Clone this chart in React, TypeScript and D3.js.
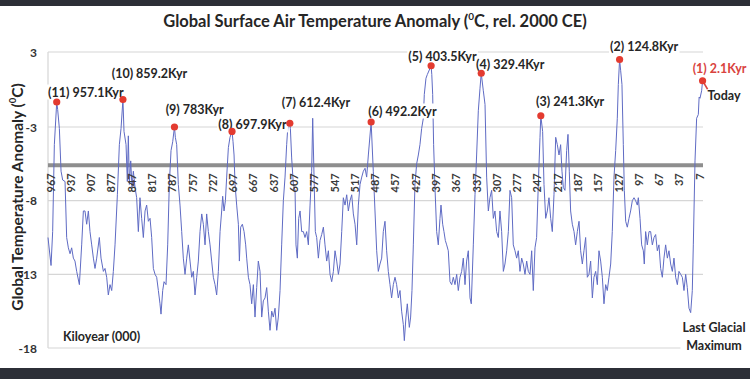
import React, { useEffect, useRef } from 'react';
import * as d3 from 'd3';

// Kiloyears before present (descending) and temperature anomaly (°C)
const kyrValues = [
  970.0, 965.5, 963.1, 960.6, 957.1, 955.7, 953.2, 950.7, 948.3, 944.8, 942.4, 939.9, 937.4, 935.0, 932.5, 930.1, 927.6, 923.6, 920.2, 917.7,
  915.3, 912.8, 910.3, 907.9, 905.4, 902.9, 900.5, 898.0, 894.1, 891.6, 888.1, 885.7, 883.2, 880.8, 878.3, 875.8, 873.4, 870.9, 867.4, 864.5,
  862.0, 859.2, 857.6, 854.6, 852.7, 851.2, 849.7, 847.7, 845.8, 843.8, 841.3, 838.9, 836.4, 834.0, 831.5, 829.0, 826.5, 824.1, 821.6, 819.1,
  816.7, 814.2, 811.7, 809.3, 806.8, 804.4, 802.9, 800.4, 798.4, 795.5, 793.0, 790.6, 788.1, 785.6, 783.0, 781.7, 779.7, 777.3, 774.8, 772.3,
  769.9, 767.4, 764.9, 762.5, 760.0, 757.5, 755.1, 752.6, 750.1, 747.7, 745.2, 742.7, 740.3, 737.8, 735.4, 732.9, 730.4, 728.0, 725.5, 723.0,
  720.6, 718.1, 715.6, 713.2, 711.7, 709.7, 707.7, 705.8, 703.3, 700.9, 697.9, 696.4, 694.9, 693.4, 691.0, 688.5, 687.0, 685.1, 682.6, 680.1,
  677.7, 676.2, 673.7, 671.3, 668.8, 666.3, 663.9, 661.4, 659.0, 656.5, 654.0, 651.6, 649.1, 646.6, 644.2, 641.7, 639.2, 636.8, 634.3, 631.8,
  629.4, 626.9, 624.5, 622.0, 619.5, 617.1, 615.1, 612.4, 611.6, 609.7, 607.2, 604.7, 603.3, 601.3, 599.3, 597.3, 594.9, 592.4, 590.0, 587.5,
  585.0, 582.5, 580.1, 578.6, 576.6, 574.7, 572.7, 570.2, 567.8, 565.3, 562.8, 560.4, 557.9, 555.4, 553.0, 550.5, 548.0, 545.6, 543.1, 540.6,
  538.2, 535.7, 533.3, 530.8, 528.3, 525.9, 523.4, 520.9, 518.5, 516.0, 513.5, 511.1, 508.6, 506.1, 503.7, 501.2, 498.8, 496.3, 492.2, 489.0,
  486.5, 484.0, 481.6, 479.1, 476.6, 474.2, 471.7, 469.3, 466.8, 464.3, 461.9, 459.4, 456.9, 454.5, 452.0, 449.5, 447.1, 444.6, 443.1, 440.7,
  438.7, 435.7, 433.8, 431.8, 429.8, 427.4, 424.9, 422.4, 420.0, 417.5, 415.0, 413.6, 411.1, 409.1, 403.5, 402.5, 401.2, 399.8, 397.8, 395.3,
  392.9, 390.4, 388.9, 386.4, 384.5, 382.5, 380.5, 378.1, 375.6, 373.1, 370.7, 368.2, 365.7, 363.3, 360.8, 358.3, 355.9, 353.4, 351.0, 348.5,
  346.0, 344.1, 341.1, 338.6, 336.2, 333.7, 331.2, 329.4, 326.3, 323.8, 321.4, 318.9, 316.5, 314.0, 311.5, 309.1, 306.6, 304.1, 301.7, 299.2,
  296.7, 294.3, 291.8, 289.3, 286.9, 284.4, 282.0, 279.5, 277.0, 274.6, 272.1, 269.6, 267.2, 264.7, 262.2, 259.8, 257.3, 254.8, 252.4, 249.9,
  247.5, 245.0, 242.5, 241.3, 238.6, 236.6, 234.1, 231.7, 229.2, 226.7, 224.3, 221.8, 219.3, 216.9, 214.4, 212.0, 210.0, 208.0, 205.6, 203.1,
  201.1, 199.2, 197.2, 194.7, 192.2, 189.8, 187.3, 184.8, 182.4, 179.9, 177.5, 175.0, 172.5, 170.1, 167.6, 165.1, 162.7, 160.2, 157.7, 155.3,
  152.8, 150.3, 147.9, 145.4, 143.0, 140.5, 138.0, 135.6, 133.1, 130.6, 128.2, 126.7, 124.8, 123.2, 121.3, 119.3, 117.8, 115.8, 113.4, 110.9,
  108.5, 106.0, 103.5, 101.1, 98.6, 97.1, 94.6, 92.2, 89.7, 88.3, 86.3, 83.8, 81.3, 78.9, 76.4, 73.9, 71.5, 69.0, 66.6, 64.1,
  61.6, 59.2, 56.7, 54.2, 51.8, 49.3, 46.8, 44.4, 41.9, 39.4, 37.0, 34.5, 32.0, 29.6, 27.1, 24.7, 22.2, 19.7, 17.3, 15.8,
  13.3, 10.9, 8.4, 7.2, 5.9, 3.5, 2.1,
];
const tempValues = [
  -10.5, -12.4, -10.1, -4.2, -1.0, -1.6, -3.1, -6.0, -6.6, -6.7, -10.5, -11.2, -11.6, -11.2, -11.9, -12.1, -12.8, -13.7, -11.0, -8.7,
  -8.7, -9.6, -8.7, -10.1, -11.0, -11.9, -12.6, -11.9, -10.5, -11.9, -12.8, -12.6, -13.2, -14.4, -13.7, -14.1, -12.8, -11.0, -7.6, -4.2,
  -3.1, -0.8, -3.3, -4.2, -6.7, -3.6, -6.9, -5.3, -7.1, -6.0, -7.1, -7.8, -10.1, -7.8, -9.2, -10.5, -8.7, -8.3, -9.4, -9.2,
  -10.5, -12.6, -13.0, -13.2, -14.1, -15.0, -15.7, -14.1, -13.5, -13.7, -11.0, -6.9, -4.6, -4.0, -3.0, -3.7, -4.2, -6.9, -8.3, -10.1,
  -11.9, -13.0, -11.9, -11.0, -12.1, -13.2, -12.8, -14.4, -13.2, -12.1, -10.1, -8.9, -9.6, -11.0, -8.9, -10.1, -11.0, -12.1, -13.2, -13.7,
  -14.4, -12.8, -10.1, -8.7, -7.7, -8.7, -8.0, -6.4, -4.4, -3.7, -3.3, -4.0, -4.9, -6.9, -8.3, -9.6, -12.1, -9.8, -9.6, -10.1,
  -11.0, -11.9, -13.2, -13.7, -15.0, -13.7, -15.9, -13.9, -12.1, -12.8, -15.9, -14.8, -14.6, -13.9, -15.5, -16.8, -15.5, -15.9, -15.3, -16.8,
  -15.9, -14.1, -11.0, -8.0, -6.4, -4.2, -2.8, -2.7, -3.1, -5.1, -6.9, -7.3, -11.0, -11.9, -9.2, -8.7, -10.1, -10.1, -10.5, -10.1,
  -11.0, -8.3, -6.0, -2.3, -6.4, -10.1, -10.5, -11.9, -10.7, -10.3, -9.8, -11.0, -12.1, -11.4, -13.0, -13.5, -12.8, -11.4, -12.1, -13.0,
  -12.3, -10.1, -7.8, -8.3, -7.6, -8.7, -8.0, -7.6, -8.9, -9.6, -11.0, -8.3, -6.9, -6.4, -6.0, -5.8, -6.4, -4.9, -2.6, -6.0,
  -8.7, -11.4, -12.8, -12.3, -11.9, -10.1, -9.4, -11.4, -12.8, -13.7, -14.6, -13.7, -13.2, -13.7, -14.6, -14.1, -15.5, -16.4, -17.5, -15.9,
  -15.0, -16.6, -15.9, -14.1, -11.0, -6.9, -5.5, -4.9, -4.2, -3.1, -2.3, -0.4, 0.9, 1.2, 1.9, 1.2, -0.4, -4.2, -7.1, -10.1,
  -11.0, -9.2, -8.3, -9.6, -10.1, -10.7, -11.0, -11.4, -13.5, -13.7, -13.2, -13.7, -13.0, -14.1, -13.2, -12.8, -11.9, -13.7, -12.1, -11.4,
  -14.6, -15.0, -11.0, -7.6, -4.9, -1.7, 0.1, 1.3, -0.1, -1.2, -6.4, -8.7, -7.8, -7.3, -9.2, -8.7, -10.1, -10.5, -8.7, -10.1,
  -12.8, -12.3, -11.4, -10.1, -7.3, -7.8, -11.0, -11.4, -11.9, -11.4, -12.8, -11.9, -12.3, -13.0, -12.1, -12.8, -13.0, -11.4, -14.1, -11.2,
  -10.5, -6.9, -3.7, -2.1, -3.3, -6.9, -9.2, -8.7, -7.8, -9.2, -10.1, -7.6, -3.7, -4.2, -4.9, -4.2, -6.0, -7.1, -7.3, -4.6,
  -3.5, -6.0, -8.7, -9.6, -10.1, -11.0, -10.1, -9.4, -11.4, -12.3, -11.4, -10.5, -13.2, -13.0, -12.1, -14.6, -13.2, -12.8, -13.7, -11.4,
  -12.1, -13.2, -15.0, -13.7, -14.1, -13.2, -12.3, -10.1, -6.4, -4.6, -2.3, 0.4, 2.4, 1.5, 0.4, -4.2, -7.3, -9.4, -9.8, -9.2,
  -8.7, -8.0, -7.8, -8.0, -8.3, -7.8, -9.2, -11.0, -11.4, -12.3, -10.1, -11.0, -10.1, -10.1, -11.0, -10.5, -10.3, -11.4, -11.0, -12.6,
  -13.2, -11.9, -11.0, -11.9, -11.4, -12.3, -12.8, -11.9, -13.2, -13.7, -12.8, -13.0, -13.2, -14.1, -13.0, -13.9, -15.3, -15.6, -14.1, -11.0,
  -5.3, -2.3, -2.0, -0.6, -0.7, -0.1, 0.7,
];

const peakLabels = [
  '(11) 957.1Kyr', '(10) 859.2Kyr', '(9) 783Kyr', '(8) 697.9Kyr', '(7) 612.4Kyr', '(6) 492.2Kyr',
  '(5) 403.5Kyr', '(4) 329.4Kyr', '(3) 241.3Kyr', '(2) 124.8Kyr', '(1) 2.1Kyr',
];
const peakKyr = [957.1, 859.2, 783.0, 697.9, 612.4, 492.2, 403.5, 329.4, 241.3, 124.8, 2.1];

const xTickLabels = [967, 937, 907, 877, 847, 817, 787, 757, 727, 697, 667, 637, 607, 577, 547, 517, 487, 457, 427, 397, 367, 337, 307, 277, 247, 217, 187, 157, 127, 97, 67, 37, 7];
const yTickValues = [3, -3, -8, -13, -18];
const axisCrossing = -5.6;

// label layout (offset of text start / text middle from its marker, px)
const labelOffsets: [number, number][] = [
  [-8.7, -10], [-11.2, -25.7], [-8.8, -17.3], [-13.7, -6.5], [-8, -21], [-2.8, -11],
  [-22.8, -9], [-5.2, -8.3], [-4.8, -14], [-9.6, -12.6], [-9.9, -12.4],
];

const FONT = 'Lato, "Open Sans", sans-serif';

export default function App() {
  const ref = useRef<SVGSVGElement>(null);

  useEffect(() => {
    const svg = d3.select(ref.current);
    svg.selectAll('*').remove();
    const W = 750, H = 379;

    const x = d3.scaleLinear().domain([970, 0]).range([48, 704]);
    const y = d3.scaleLinear().domain([-18, -3, 3]).range([348, 127, 52]);
    const x0 = 48, x1 = 703;

    svg.append('rect').attr('width', W).attr('height', H).attr('fill', '#fff');

    // gridlines
    svg.append('g').selectAll('line').data(yTickValues).join('line')
      .attr('x1', x0).attr('x2', x1)
      .attr('y1', d => y(d)).attr('y2', d => y(d))
      .attr('stroke', '#d6d6d6').attr('stroke-width', 1.2);
    svg.append('line').attr('x1', x0).attr('x2', x0).attr('y1', y(3)).attr('y2', y(-18))
      .attr('stroke', '#d6d6d6').attr('stroke-width', 1.2);

    // horizontal axis
    svg.append('line').attr('x1', x0).attr('x2', x1)
      .attr('y1', y(axisCrossing)).attr('y2', y(axisCrossing))
      .attr('stroke', '#8e8e8e').attr('stroke-width', 4);

    // series
    const n = Math.min(kyrValues.length, tempValues.length);
    const pts = kyrValues.slice(0, n).map((k, i) => [k, tempValues[i]] as [number, number]);
    const line = d3.line<[number, number]>().x(d => x(d[0])).y(d => y(d[1]));
    svg.append('path').attr('d', line(pts)!).attr('fill', 'none')
      .attr('stroke', '#5f6bc4').attr('stroke-width', 1.0).attr('stroke-linejoin', 'round');

    // x tick labels
    svg.append('g').selectAll('text').data(xTickLabels).join('text')
      .attr('transform', d => `translate(${x(d)},${y(axisCrossing) + 8}) rotate(-90)`)
      .attr('text-anchor', 'end').attr('dominant-baseline', 'central')
      .attr('font-family', FONT).attr('font-size', 11).attr('font-weight', 'bold')
      .attr('fill', '#3a3a3a').text(d => String(d));

    // y tick labels
    svg.append('g').selectAll('text').data(yTickValues).join('text')
      .attr('x', 37).attr('y', d => y(d)).attr('text-anchor', 'end').attr('dominant-baseline', 'central')
      .attr('font-family', FONT).attr('font-size', 12).attr('font-weight', 'bold')
      .attr('fill', '#333').text(d => String(d));

    const addBoxedText = (g: any, pad = 1) => {
      const node = g.node() as SVGTextElement;
      const bb = node.getBBox();
      d3.select(node.parentNode as SVGGElement).insert('rect', () => node)
        .attr('x', bb.x - pad).attr('y', bb.y).attr('width', bb.width + 2 * pad).attr('height', bb.height)
        .attr('fill', '#fff');
    };

    // peak labels & markers
    const labelsG = svg.append('g');
    peakKyr.forEach((k, i) => {
      const idx = kyrValues.indexOf(k);
      const t = tempValues[idx];
      const mx = x(k), my = y(t);
      const [dx, dy] = labelOffsets[i];
      const isToday = i === peakKyr.length - 1;
      const tx = labelsG.append('text').attr('x', mx + dx).attr('y', my + dy)
        .attr('dominant-baseline', 'central')
        .attr('font-family', FONT).attr('font-size', 12.5).attr('font-weight', 'bold')
        .attr('fill', isToday ? '#d9433f' : '#262626').text(peakLabels[i]);
      addBoxedText(tx);
    });
    const todayIdx = kyrValues.indexOf(peakKyr[peakKyr.length - 1]);
    const tmx = x(peakKyr[peakKyr.length - 1]), tmy = y(tempValues[todayIdx]);
    svg.append('line').attr('x1', tmx).attr('y1', tmy).attr('x2', tmx + 5).attr('y2', tmy + 8.5)
      .attr('stroke', '#d9433f').attr('stroke-width', 1.5);
    peakKyr.forEach(k => {
      const idx = kyrValues.indexOf(k);
      svg.append('circle').attr('cx', x(k)).attr('cy', y(tempValues[idx])).attr('r', 3.6)
        .attr('fill', '#e33b30');
    });

    svg.append('text').attr('x', tmx + 5).attr('y', tmy + 15).attr('dominant-baseline', 'central')
      .attr('font-family', FONT).attr('font-size', 12.5).attr('font-weight', 'bold').attr('fill', '#262626')
      .text('Today');

    // Last Glacial Maximum
    const lgmG = svg.append('g');
    const lgm = lgmG.append('text').attr('x', 714).attr('y', 327.7).attr('text-anchor', 'middle')
      .attr('font-family', FONT).attr('font-size', 12.5).attr('font-weight', 'bold').attr('fill', '#262626');
    lgm.append('tspan').attr('x', 714).attr('dy', '0.35em').text('Last Glacial');
    lgm.append('tspan').attr('x', 714).attr('dy', '1.45em').text('Maximum');
    addBoxedText(lgm, 2);

    svg.append('text').attr('x', 63).attr('y', 336.7).attr('dominant-baseline', 'central')
      .attr('font-family', FONT).attr('font-size', 12.5).attr('font-weight', 'bold').attr('fill', '#262626')
      .text('Kiloyear (000)');

    // title
    const title = svg.append('text').attr('x', 375).attr('y', 21).attr('text-anchor', 'middle')
      .attr('dominant-baseline', 'central')
      .attr('font-family', FONT).attr('font-size', 16.5).attr('font-weight', 'bold').attr('fill', '#262626');
    title.append('tspan').text('Global Surface Air Temperature Anomaly (');
    title.append('tspan').attr('font-size', 10).attr('dy', -5).text('0');
    title.append('tspan').attr('dy', 5).text('C, rel. 2000 CE)');

    // y axis title
    const yt = svg.append('text').attr('transform', 'translate(17,197) rotate(-90)')
      .attr('text-anchor', 'middle').attr('dominant-baseline', 'central')
      .attr('font-family', FONT).attr('font-size', 15.5).attr('font-weight', 'bold').attr('fill', '#262626');
    yt.append('tspan').text('Global Temperature Anomaly (');
    yt.append('tspan').attr('font-size', 9.5).attr('dy', -5).text('0');
    yt.append('tspan').attr('dy', 5).text('C)');

    // dark bands
    svg.append('rect').attr('x', 0).attr('y', 0).attr('width', W).attr('height', 6).attr('fill', '#2c2f37');
    svg.append('rect').attr('x', 0).attr('y', 368).attr('width', W).attr('height', H - 368).attr('fill', '#2c2f37');
  }, []);

  return (
    <svg ref={ref} width={750} height={379}
      style={{ position: 'absolute', left: 0, top: 0, display: 'block' }} />
  );
}
